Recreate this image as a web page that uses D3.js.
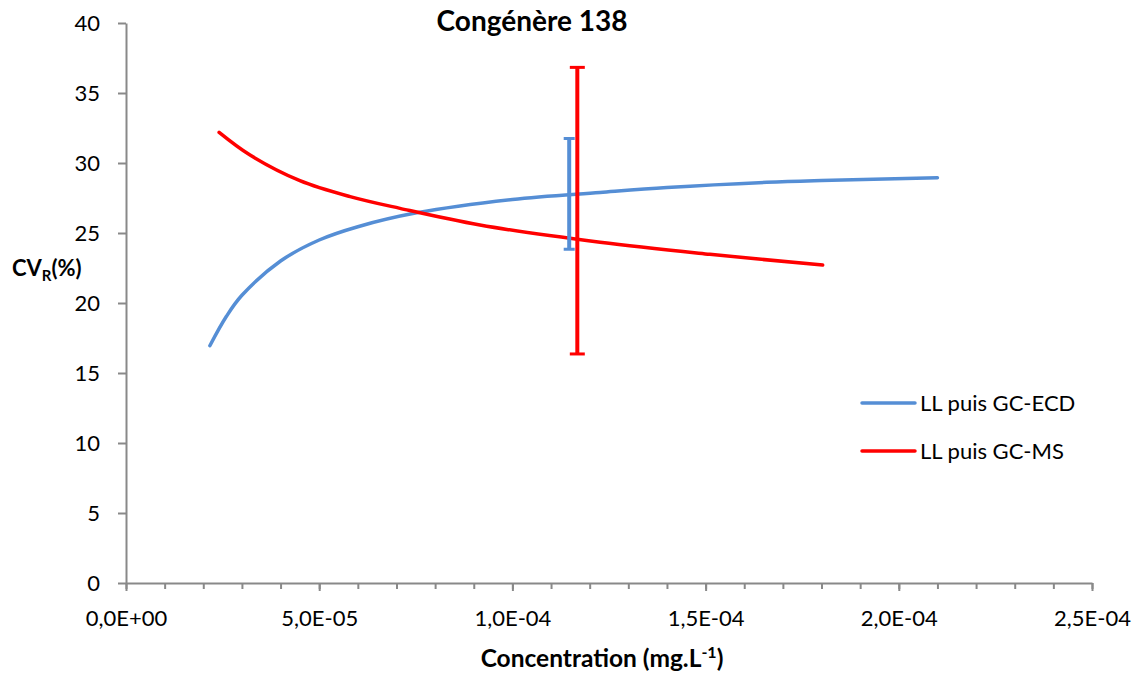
<!DOCTYPE html>
<html>
<head>
<meta charset="utf-8">
<script src="https://cdn.jsdelivr.net/npm/d3@7"></script>
<style>
  body { margin: 0; background: #fff; }
  svg text { font-family: Lato, "Open Sans", sans-serif; fill: #000; }
  .axis path, .axis line { stroke: #898989; stroke-width: 2; }
</style>
</head>
<body>
<svg id="chart"></svg>
<script>
// values (x in mg/L, y in %)
const ecdX = [2.17e-5, 2.6e-5, 3.0e-5, 4.0e-5, 5.0e-5, 6.0e-5, 7.52e-5, 1.0e-4, 1.227e-4, 1.4e-4, 1.658e-4, 1.8e-4, 2.1e-4];
const ecdY = [16.95, 19.05, 20.55, 23.0, 24.5, 25.45, 26.44, 27.4, 27.9, 28.25, 28.62, 28.75, 28.95];
const msX = [2.41e-5, 3.21e-5, 4.5e-5, 5.8e-5, 7.09e-5, 9.16e-5, 1.227e-4, 1.511e-4, 1.803e-4];
const msY = [32.19, 30.57, 28.74, 27.6, 26.76, 25.57, 24.34, 23.48, 22.71];
// error bars: [x, low, high]
const ecdErr = [1.147e-4, 23.84, 31.75];
const msErr = [1.168e-4, 16.36, 36.83];
const seriesNames = ["LL puis GC-ECD", "LL puis GC-MS"];
const seriesColors = ["#558ED5", "#FF0000"];
const xTicks = [0, 5e-5, 1e-4, 1.5e-4, 2e-4, 2.5e-4];
const yTicks = [0, 5, 10, 15, 20, 25, 30, 35, 40];

const W = 1136, H = 675;
const margin = {top: 23, right: 44, bottom: 92, left: 126};
const width = W - margin.left - margin.right;
const height = H - margin.top - margin.bottom;

const svg = d3.select("#chart").attr("width", W).attr("height", H);
const g = svg.append("g").attr("transform", `translate(${margin.left},${margin.top})`);

const x = d3.scaleLinear().domain([0, 2.5e-4]).range([0, width]);
const y = d3.scaleLinear().domain([0, 40]).range([height, 0]);

// excel style "1,5E-04"
const fmtX = d => {
  const [m, e] = d.toExponential(1).split("e");
  const n = +e;
  return m.replace(".", ",") + "E" + (n < 0 ? "-" : "+") + String(Math.abs(n)).padStart(2, "0");
};

// minor ticks on x
g.append("g").attr("class", "axis")
  .attr("transform", `translate(0,${height})`)
  .call(d3.axisBottom(x).tickValues(d3.range(0, 26).map(i => i * 1e-5)).tickSize(6).tickFormat(""))
  .call(a => a.select(".domain").remove());

const xAxis = g.append("g").attr("class", "axis")
  .attr("transform", `translate(0,${height})`)
  .call(d3.axisBottom(x).tickValues(xTicks).tickSize(8).tickSizeOuter(0).tickFormat(fmtX));
xAxis.selectAll("text").attr("font-size", 22).attr("dy", 0).attr("y", 43);

const yAxis = g.append("g").attr("class", "axis")
  .call(d3.axisLeft(y).tickValues(yTicks).tickSize(8).tickSizeOuter(0));
yAxis.selectAll("text").attr("font-size", 22).attr("x", -26);

// curves
const line = d3.line().x(d => x(d[0])).y(d => y(d[1])).curve(d3.curveCatmullRom.alpha(0.5));
const series = [d3.zip(ecdX, ecdY), d3.zip(msX, msY)];
g.selectAll(".curve").data(series).join("path")
  .attr("class", "curve")
  .attr("fill", "none")
  .attr("stroke", (d, i) => seriesColors[i])
  .attr("stroke-width", 3.5)
  .attr("stroke-linecap", "round")
  .attr("d", line);

// error bars
const errs = [ecdErr, msErr];
const capW = [11, 15];
const eb = g.selectAll(".err").data(errs).join("g").attr("class", "err");
eb.append("line")
  .attr("x1", d => x(d[0])).attr("x2", d => x(d[0]))
  .attr("y1", d => y(d[1])).attr("y2", d => y(d[2]))
  .attr("stroke", (d, i) => seriesColors[i])
  .attr("stroke-width", 4);
eb.each(function(d, i) {
  d3.select(this).selectAll(".cap").data([d[1], d[2]]).join("line")
    .attr("class", "cap")
    .attr("x1", x(d[0]) - capW[i] / 2).attr("x2", x(d[0]) + capW[i] / 2)
    .attr("y1", v => y(v)).attr("y2", v => y(v))
    .attr("stroke", seriesColors[i])
    .attr("stroke-width", 3);
});

// title and axis labels
svg.append("text").attr("x", 532).attr("y", 31).attr("text-anchor", "middle")
  .attr("font-size", 28).attr("font-weight", "bold").text("Congénère 138");

const yl = svg.append("text").attr("x", 12).attr("y", 276).attr("font-size", 22).attr("font-weight", "bold");
yl.append("tspan").text("CV");
yl.append("tspan").attr("font-size", 15).attr("dy", 5).text("R");
yl.append("tspan").attr("dy", -5).text("(%)");

const xl = svg.append("text").attr("x", 602).attr("y", 667).attr("text-anchor", "middle")
  .attr("font-size", 24.5).attr("font-weight", "bold");
xl.append("tspan").text("Concentration (mg.L");
xl.append("tspan").attr("font-size", 16).attr("dy", -9).text("-1");
xl.append("tspan").attr("dy", 9).text(")");

// legend
const leg = svg.append("g").selectAll("g").data(seriesNames).join("g")
  .attr("transform", (d, i) => `translate(862,${403 + i * 48})`);
leg.append("line").attr("x1", 0).attr("x2", 53)
  .attr("stroke", (d, i) => seriesColors[i]).attr("stroke-width", 3.5).attr("stroke-linecap", "round");
leg.append("text").attr("x", 58).attr("dy", "0.35em").attr("font-size", 22).text(d => d);
</script>
</body>
</html>
